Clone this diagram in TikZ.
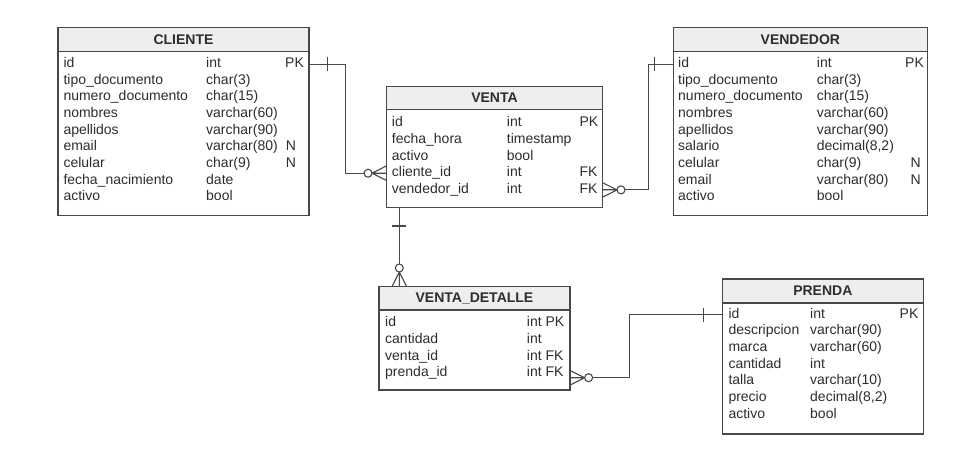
\documentclass[tikz,border=0pt]{standalone}
\usepackage{fontspec}
\setmainfont{Liberation Sans}
\definecolor{linec}{RGB}{72,72,72}
\definecolor{headc}{RGB}{238,238,238}
\definecolor{textc}{RGB}{45,45,45}
\begin{document}
\begin{tikzpicture}[x=1pt,y=-1pt,
  font=\fontsize{14}{16}\selectfont,
  edge/.style={draw=linec, line width=1.1pt},
  tbox/.style={draw=linec, fill=white, line width=1.3pt, anchor=north west, inner sep=0pt},
  thead/.style={draw=linec, fill=headc, line width=1.3pt, anchor=north west, inner sep=0pt, font=\fontsize{14}{16}\selectfont\bfseries, text=textc},
  cell/.style={anchor=west, inner sep=0pt, text height=10pt, text depth=3pt, text=textc},
  one/.pic={\draw[edge] (-18,-7) -- (-18,7);},
  zmany/.pic={\draw[edge] (-14,0) -- (0,-7) (-14,0) -- (0,0) (-14,0) -- (0,7);
              \draw[edge, fill=white] (-18,0) circle[radius=4pt];}
]
\useasboundingbox[fill=white] (0,0) rectangle (955,450);

% ---------- CLIENTE ----------
\node[tbox, minimum width=251pt, minimum height=188.3pt] (cli) at (57.3,26.7) {};
\node[thead, minimum width=251pt, minimum height=24pt] (clih) at (57.3,26.7) {CLIENTE};
\foreach \a/\b [count=\i] in {{id}/{int},{tipo\_documento}/{char(3)},{numero\_documento}/{char(15)},{nombres}/{varchar(60)},{apellidos}/{varchar(90)},{email}/{varchar(80)},{celular}/{char(9)},{fecha\_nacimiento}/{date},{activo}/{bool}}{
  \node[cell] (cli-a\i) at (63.3,{64.2+16.63*(\i-1)}) {\a};
  \node[cell] (cli-b\i) at (206,{64.2+16.63*(\i-1)}) {\b};
}
\node[cell] (cli-c1) at (285,64.2) {PK};
\node[cell] (cli-c6) at (285.7,{64.2+16.63*5}) {N};
\node[cell] (cli-c7) at (285.7,{64.2+16.63*6}) {N};

% ---------- VENDEDOR ----------
\node[tbox, minimum width=254pt, minimum height=188.3pt] (vnd) at (672.7,26.7) {};
\node[thead, minimum width=254pt, minimum height=24pt] (vndh) at (672.7,26.7) {VENDEDOR};
\foreach \a/\b [count=\i] in {{id}/{int},{tipo\_documento}/{char(3)},{numero\_documento}/{char(15)},{nombres}/{varchar(60)},{apellidos}/{varchar(90)},{salario}/{decimal(8,2)},{celular}/{char(9)},{email}/{varchar(80)},{activo}/{bool}}{
  \node[cell] (vnd-a\i) at (678,{64.2+16.63*(\i-1)}) {\a};
  \node[cell] (vnd-b\i) at (816.7,{64.2+16.63*(\i-1)}) {\b};
}
\node[cell] (vnd-c1) at (905,64.2) {PK};
\node[cell] (vnd-c7) at (910.5,{64.2+16.63*6}) {N};
\node[cell] (vnd-c8) at (910.5,{64.2+16.63*7}) {N};

% ---------- VENTA ----------
\node[tbox, minimum width=215.7pt, minimum height=120.7pt] (ven) at (386,86) {};
\node[thead, minimum width=215.7pt, minimum height=22.5pt] (venh) at (386,86) {VENTA};
\foreach \a/\b [count=\i] in {{id}/{int},{fecha\_hora}/{timestamp},{activo}/{bool},{cliente\_id}/{int},{vendedor\_id}/{int}}{
  \node[cell] (ven-a\i) at (391.7,{123.2+16.67*(\i-1)}) {\a};
  \node[cell] (ven-b\i) at (506.7,{123.2+16.67*(\i-1)}) {\b};
}
\node[cell] (ven-c1) at (579.3,123.2) {PK};
\node[cell] (ven-c4) at (579.3,{123.2+16.67*3}) {FK};
\node[cell] (ven-c5) at (579.3,{123.2+16.67*4}) {FK};

% ---------- VENTA_DETALLE ----------
\node[tbox, minimum width=191pt, minimum height=103.3pt] (vd) at (378.3,286) {};
\node[thead, minimum width=191pt, minimum height=23.3pt] (vdh) at (378.3,286) {VENTA\_DETALLE};
\foreach \a/\b [count=\i] in {{id}/{int PK},{cantidad}/{int},{venta\_id}/{int FK},{prenda\_id}/{int FK}}{
  \node[cell] (vd-a\i) at (385,{323.2+16.67*(\i-1)}) {\a};
  \node[cell] (vd-b\i) at (526.7,{323.2+16.67*(\i-1)}) {\b};
}

% ---------- PRENDA ----------
\node[tbox, minimum width=201pt, minimum height=155pt] (pre) at (721.7,278.3) {};
\node[thead, minimum width=201pt, minimum height=24pt] (preh) at (721.7,278.3) {PRENDA};
\foreach \a/\b [count=\i] in {{id}/{int},{descripcion}/{varchar(90)},{marca}/{varchar(60)},{cantidad}/{int},{talla}/{varchar(10)},{precio}/{decimal(8,2)},{activo}/{bool}}{
  \node[cell] (pre-a\i) at (728.3,{314.8+16.67*(\i-1)}) {\a};
  \node[cell] (pre-b\i) at (810,{314.8+16.67*(\i-1)}) {\b};
}
\node[cell] (pre-c1) at (899.5,314.8) {PK};

% ---------- connectors ----------
\coordinate (j1) at (345.7,0);
\coordinate (j2) at (648.3,0);
\coordinate (j3) at (399.3,0);
\coordinate (j4) at (629.3,0);
\coordinate (vdp) at (385,377.7);

\draw[edge] (cli.east |- cli-a1) -- (j1 |- cli-a1) -- (j1 |- ven-a4) -- (ven.west |- ven-a4);
\draw[edge] (ven.east |- ven-a5) -- (j2 |- ven-a5) -- (j2 |- vnd-a1) -- (vnd.west |- vnd-a1);
\draw[edge] (ven.south -| j3) -- (vd.north -| j3);
\draw[edge] (vd.east |- vdp) -- (j4 |- vdp) -- (j4 |- pre-a1) -- (pre.west |- pre-a1);

\pic[rotate=180] at (cli.east |- cli-a1) {one};
\pic at (vnd.west |- vnd-a1) {one};
\pic[rotate=90] at (ven.south -| j3) {one};
\pic at (pre.west |- pre-a1) {one};

\pic at (ven.west |- ven-a4) {zmany};
\pic[rotate=180] at (ven.east |- ven-a5) {zmany};
\pic[rotate=-90] at (vd.north -| j3) {zmany};
\pic[rotate=180] at (vd.east |- vdp) {zmany};
\end{tikzpicture}
\end{document}
